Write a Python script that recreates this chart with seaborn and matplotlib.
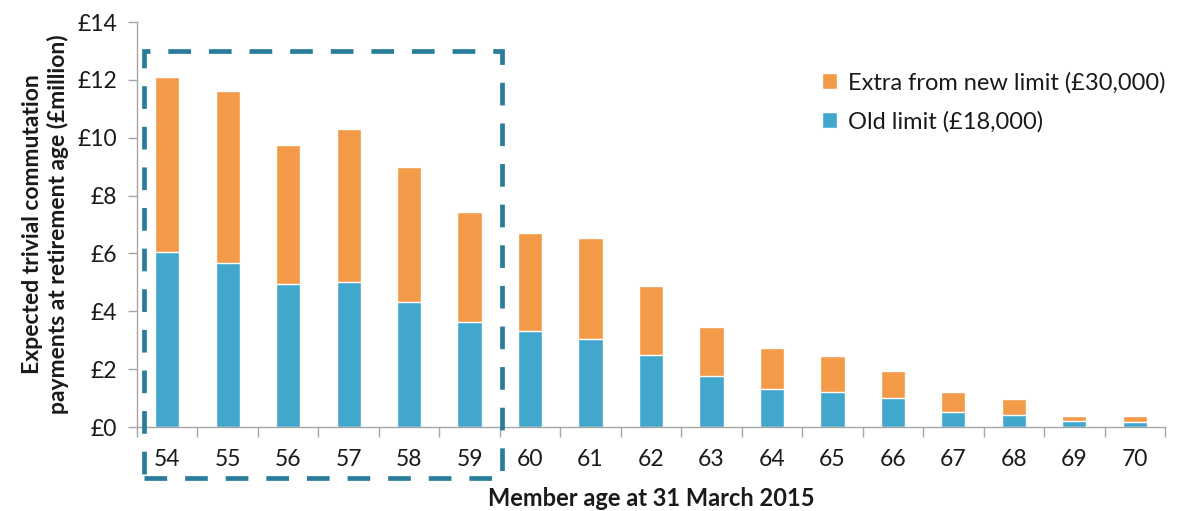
import matplotlib
matplotlib.use("Agg")
import matplotlib.pyplot as plt
from matplotlib.patches import Rectangle
from matplotlib.ticker import FuncFormatter, FixedLocator
import seaborn as sns
import pandas as pd
import numpy as np

ages = [54, 55, 56, 57, 58, 59, 60, 61, 62, 63, 64, 65, 66, 67, 68, 69, 70]
old_limit = [6.05, 5.67, 4.95, 5.02, 4.33, 3.63, 3.32, 3.05, 2.48, 1.76, 1.31, 1.21, 1.01, 0.52, 0.42, 0.21, 0.17]
extra_new = [6.05, 5.95, 4.81, 5.28, 4.65, 3.81, 3.39, 3.48, 2.40, 1.70, 1.42, 1.23, 0.93, 0.69, 0.55, 0.17, 0.21]

ORANGE = "#F39A48"
BLUE = "#41A7CC"
DASH = "#2A7C9B"
AXIS_GREY = "#A6A6A6"
TEXT = "#1A1A1A"

sns.set_theme(style="white")
plt.rcParams["font.family"] = ["Lato", "DejaVu Sans"]

df = pd.DataFrame({
    "age": [str(a) for a in ages],
    "old": old_limit,
    "total": np.array(old_limit) + np.array(extra_new),
})

fig = plt.figure(figsize=(11.83, 5.11), dpi=100)
ax = fig.add_axes([137 / 1183, 1 - 427 / 511, 1028 / 1183, 405 / 511])

# orange = full stack height, blue drawn over the lower part
sns.barplot(data=df, x="age", y="total", color=ORANGE, width=0.40,
            saturation=1, ax=ax, label="Extra from new limit (£30,000)")
sns.barplot(data=df, x="age", y="old", color=BLUE, width=0.40,
            saturation=1, ax=ax, label="Old limit (£18,000)")

ax.set_xlim(-0.5, len(ages) - 0.5)
ax.set_ylim(0, 14)
ax.set_yticks(np.arange(0, 15, 2))
ax.yaxis.set_major_formatter(FuncFormatter(lambda v, p: f"£{v:.0f}"))

# category boundary ticks on the x axis
ax.xaxis.set_minor_locator(FixedLocator(np.arange(-0.5, len(ages), 1.0)))
ax.tick_params(axis="x", which="major", length=0, labelsize=16.5, pad=16, colors=TEXT)
ax.tick_params(axis="x", which="minor", length=7, width=1, color=AXIS_GREY,
               direction="out", bottom=True)
ax.tick_params(axis="y", which="major", length=6.5, width=1, color=AXIS_GREY,
               direction="out", left=True, labelsize=16.5, pad=8, colors=TEXT)

for side in ["top", "right"]:
    ax.spines[side].set_visible(False)
for side in ["left", "bottom"]:
    ax.spines[side].set_color(AXIS_GREY)
    ax.spines[side].set_linewidth(1)

ax.set_xlabel("Member age at 31 March 2015", fontsize=17, fontweight="bold",
              labelpad=12, color=TEXT)
ax.set_ylabel("Expected trivial commutation\npayments at retirement age (£million)",
              fontsize=16.5, fontweight="bold", labelpad=6, linespacing=1.2, color=TEXT)

# dashed box around ages 54-59
box = Rectangle((-0.38, -1.75), 5.92, 14.75, fill=False, edgecolor=DASH,
                linewidth=3.4, linestyle=(0, (4.8, 3.8)), capstyle="butt",
                joinstyle="miter", clip_on=False, zorder=5)
ax.add_patch(box)

handles, labels = ax.get_legend_handles_labels()
ax.legend(handles, labels, loc="center left", bbox_to_anchor=(822 / 1183, 1 - 102 / 511),
          bbox_transform=fig.transFigure, frameon=False, fontsize=17,
          handlelength=0.65, handleheight=0.65, handletextpad=0.45, labelspacing=0.75,
          borderaxespad=0, borderpad=0, labelcolor=TEXT)

fig.savefig("out.png", dpi=100)
